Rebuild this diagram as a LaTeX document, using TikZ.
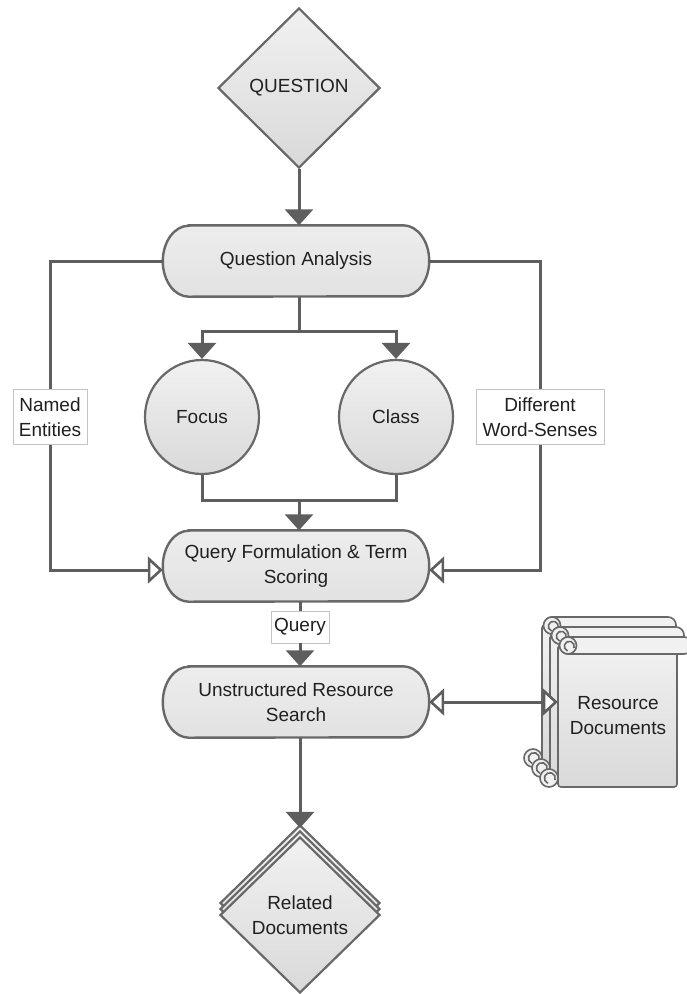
\documentclass[tikz,border=0pt]{standalone}
\usepackage{fontspec}
\setmainfont{Liberation Sans}
\usetikzlibrary{shapes.geometric,arrows.meta,backgrounds,shadows}

\definecolor{linkgray}{HTML}{5E5E5E}
\definecolor{edgegray}{HTML}{686868}
\definecolor{shapetop}{HTML}{F1F1F1}
\definecolor{shapebot}{HTML}{D9D9D9}
\definecolor{boxtop}{HTML}{EDEDED}
\definecolor{boxbot}{HTML}{E2E2E2}
\definecolor{labelframe}{HTML}{C4C4C4}
\definecolor{inkgray}{HTML}{202020}

\tikzset{
  base/.style={font=\fontsize{19}{25}\selectfont, text=inkgray, align=center, inner sep=0pt},
  decision/.style={base, diamond, draw=edgegray, line width=2.2pt,
    top color=shapetop, bottom color=shapebot,
    minimum width=162pt, minimum height=160pt},
  process/.style={base, rectangle, minimum width=266pt, minimum height=71pt},
  stadfill/.style={draw=edgegray, line width=2.4pt, top color=boxtop, bottom color=boxbot},
  topic/.style={base, circle, draw=edgegray, line width=2.2pt,
    top color=shapetop, bottom color=shapebot, minimum size=114pt},
  tag/.style={base, fill=white, draw=labelframe, line width=0.8pt},
  link/.style={draw=linkgray, line width=3pt},
  flow/.style={link, -{Triangle[width=28pt,length=16pt]}},
  feed/.style={link, -{Triangle[open,fill=white,width=27pt,length=15pt,line width=2.6pt]}},
  both/.style={link, {Triangle[open,fill=white,width=27pt,length=15pt,line width=2.6pt]}-{Triangle[open,fill=white,width=27pt,length=15pt,line width=2.6pt]}},
  pagebody/.style={draw=edgegray, line width=1.6pt, top color=shapetop, bottom color=shapebot, rounded corners=3pt},
  pageband/.style={draw=edgegray, line width=1.6pt, fill=shapetop, rounded corners=8pt},
  pagecurl/.style={draw=edgegray, line width=1.6pt, fill=shapetop},
  pageline/.style={draw=edgegray, line width=1.6pt},
}

% stadium outline drawn behind a process node
\newcommand\stadiumbox[1]{%
  \path[stadfill] ([xshift=26pt]#1.north west) -- ([xshift=-26pt]#1.north east)
    arc[start angle=90,end angle=-90,x radius=26pt,y radius=35.5pt]
    -- ([xshift=26pt]#1.south west)
    arc[start angle=270,end angle=90,x radius=26pt,y radius=35.5pt] -- cycle;}

% one sheet of the scroll stack: body, rolled top band and two curls
\newcommand\scrollpage{%
  \path[pagebody] (558,645) rectangle (677,787);
  \path[pageband] (560,637) rectangle (692,654);
  \path[pagecurl] (568,645.5) circle[radius=8.5pt];
  \draw[pageline] (574,648) arc[start angle=-20,end angle=250,radius=5pt];
  \path[pagecurl] (549,778) circle[radius=9pt];
  \draw[pageline] (555,780) arc[start angle=-20,end angle=250,radius=5.5pt];
}

\begin{document}
\begin{tikzpicture}[x=1pt,y=-1pt]
\useasboundingbox (0,0) rectangle (686,994);

% nodes
\node[decision] (q) at (299,88) {QUESTION};
\node[process] (qa) at (296,261) {Question Analysis};
\node[topic] (focus) at (202,417) {Focus};
\node[topic] (class) at (396,417) {Class};
\node[process] (qf) at (296,566) {Query Formulation \& Term\\Scoring};
\node[process] (us) at (296,702) {Unstructured Resource\\Search};
\node[base, minimum width=120pt, minimum height=142pt] (rd) at (618,716) {Resource\\Documents};
\node[decision, minimum width=160pt, minimum height=156pt,
  double copy shadow={shadow xshift=0pt, shadow yshift=6pt,
    top color=shapetop, bottom color=shapebot, draw=edgegray, line width=2.2pt}]
  (rel) at (300,915) {Related\\Documents};

% edge labels
\node[tag, minimum width=74pt, minimum height=55pt] (ne) at (50,417) {Named\\Entities};
\node[tag, minimum width=128pt, minimum height=55pt] (ws) at (540,417) {Different\\Word-Senses};
\node[tag, minimum width=58pt, minimum height=32pt] (ql) at (300,627) {Query};

\coordinate (split) at (299,331);
\coordinate (merge) at (299,500);

% shapes behind the text
\begin{scope}[on background layer]
  \stadiumbox{qa}
  \stadiumbox{qf}
  \stadiumbox{us}
  \begin{scope}[shift={(-16,-20)}]\scrollpage\end{scope}
  \begin{scope}[shift={(-8,-10)}]\scrollpage\end{scope}
  \scrollpage
\end{scope}

% connectors
\draw[flow] (q.south) -- (q.south |- qa.north);
\draw[link] (qa.south -| split) -- (split);
\draw[flow] (split) -| (focus.north);
\draw[flow] (split) -| (class.north);
\draw[link] (focus.south) |- (merge) -| (class.south);
\draw[flow] (merge) -- (merge |- qf.north);

\draw[link] (qa.west) -| (ne.north);
\draw[feed] (ne.south) |- ([yshift=-4pt]qf.west);
\draw[link] (qa.east) -| (ws.north);
\draw[feed] (ws.south) |- ([yshift=-4pt]qf.east);

\draw[link] (ql.north |- qf.south) -- (ql.north);
\draw[flow] (ql.south) -- (ql.south |- us.north);
\draw[both] (us.east) -- (us.east -| rd.west);
\draw[flow] (us.south -| rel.north) -- ([yshift=8pt]rel.north);
\end{tikzpicture}
\end{document}
